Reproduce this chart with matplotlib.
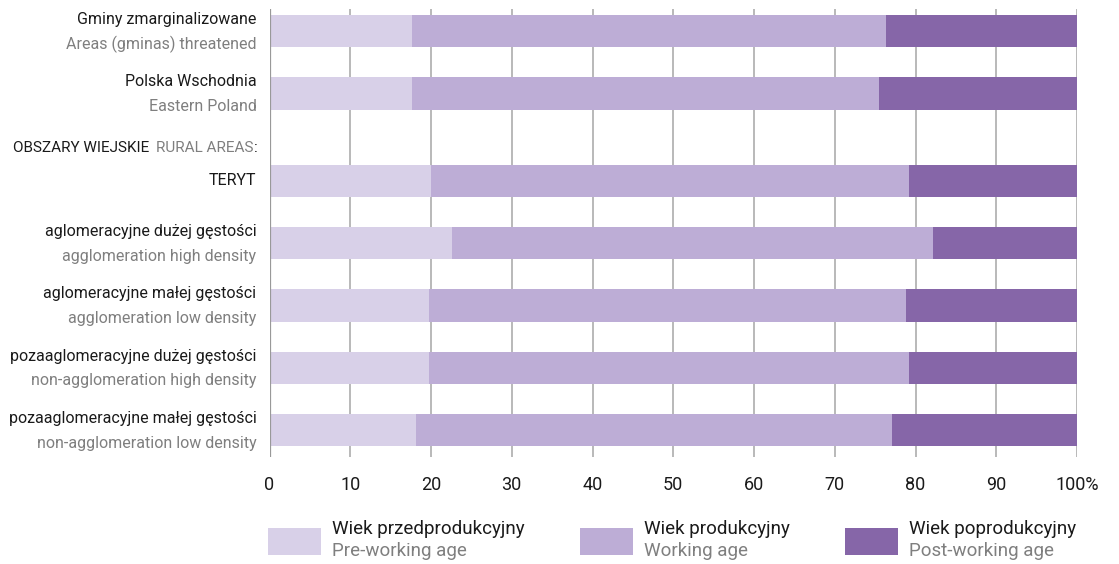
import matplotlib
matplotlib.use("Agg")
import matplotlib.pyplot as plt
from matplotlib.patches import Rectangle
import matplotlib.transforms as mtransforms

plt.rcParams['font.family'] = ['Roboto', 'DejaVu Sans']

# ---- data ----
labels_pl = ["Gminy zmarginalizowane", "Polska Wschodnia", "TERYT",
             "aglomeracyjne dużej gęstości", "aglomeracyjne małej gęstości",
             "pozaaglomeracyjne dużej gęstości", "pozaaglomeracyjne małej gęstości"]
labels_en = ["Areas (gminas) threatened", "Eastern Poland", "",
             "agglomeration high density", "agglomeration low density",
             "non-agglomeration high density", "non-agglomeration low density"]
pre_working = [17.7, 17.6, 20.0, 22.6, 19.7, 19.7, 18.2]
working = [58.7, 57.9, 59.2, 59.6, 59.1, 59.5, 58.9]
post_working = [23.6, 24.5, 20.8, 17.8, 21.2, 20.8, 22.9]
ticks = [0, 10, 20, 30, 40, 50, 60, 70, 80, 90, 100]
tick_labels = ["0", "10", "20", "30", "40", "50", "60", "70", "80", "90", "100%"]
series_pl = ["Wiek przedprodukcyjny", "Wiek produkcyjny", "Wiek poprodukcyjny"]
series_en = ["Pre-working age", "Working age", "Post-working age"]

# ---- style ----
colors = ["#D8D0E8", "#BDADD6", "#8666A8"]
black = "#1a1a1a"
gray = "#7f7f7f"
ypos = [0, 1, 2.4, 3.4, 4.4, 5.4, 6.4]
header_y = 1.87

W, H = 1119, 564
fig = plt.figure(figsize=(W / 100, H / 100), dpi=100)
ax = fig.add_axes([269.5 / W, (H - 457) / H, (1077 - 269.5) / W, (457 - 9) / H])

left = [0] * len(pre_working)
left2 = [a + b for a, b in zip(pre_working, working)]
ax.barh(ypos, pre_working, left=left, height=0.52, color=colors[0], zorder=2, linewidth=0)
ax.barh(ypos, working, left=pre_working, height=0.52, color=colors[1], zorder=2, linewidth=0)
ax.barh(ypos, post_working, left=left2, height=0.52, color=colors[2], zorder=2, linewidth=0)

ax.set_xlim(0, 100)
ax.set_ylim(6.83, -0.357)
ax.set_xticks(ticks)
ax.set_xticklabels(tick_labels, fontsize=13, color=black)
ax.set_yticks([])
ax.tick_params(axis='x', length=0, pad=14)
ax.grid(axis='x', color="#a6a6a6", linewidth=1.1, zorder=0)
for s in ax.spines.values():
    s.set_visible(False)
ax.axvline(0, color="#999999", linewidth=1.6, zorder=3)

trans = mtransforms.blended_transform_factory(ax.transAxes, ax.transData)
xoff = -13 / (1077 - 269.5)
for y, pl, en in zip(ypos, labels_pl, labels_en):
    if en:
        ax.text(xoff, y - 0.19, pl, transform=trans, ha='right', va='center',
                fontsize=11.5, color=black)
        ax.text(xoff, y + 0.21, en, transform=trans, ha='right', va='center',
                fontsize=11.5, color=gray)
    else:
        ax.text(xoff, y, pl, transform=trans, ha='right', va='center',
                fontsize=11.5, color=black)

# header line: OBSZARY WIEJSKIE  RURAL AREAS:
t3 = ax.text(xoff + 1 / 807, header_y, ":", transform=trans, ha='right', va='center',
             fontsize=11, color=black)
t2 = ax.annotate("RURAL AREAS", xy=(0, 0), xycoords=t3, ha='right', va='bottom',
                 fontsize=11, color=gray)
t1 = ax.annotate("OBSZARY WIEJSKIE", xy=(0, 0), xycoords=t2, xytext=(-7, 0),
                 textcoords='offset pixels', ha='right', va='bottom',
                 fontsize=11, color=black)

# ---- legend (pixel-coordinate overlay) ----
lax = fig.add_axes([0, 0, 1, 1], facecolor='none')
lax.set_xlim(0, W)
lax.set_ylim(H, 0)
lax.axis('off')
sq_x = [268, 580, 845]
for i in range(3):
    lax.add_patch(Rectangle((sq_x[i], 528), 53, 27, facecolor=colors[i], edgecolor='none'))
    lax.text(sq_x[i] + 64, 529, series_pl[i], ha='left', va='center', fontsize=13.5, color=black)
    lax.text(sq_x[i] + 64, 551, series_en[i], ha='left', va='center', fontsize=13.5, color=gray)

fig.savefig("out.png", dpi=100)
